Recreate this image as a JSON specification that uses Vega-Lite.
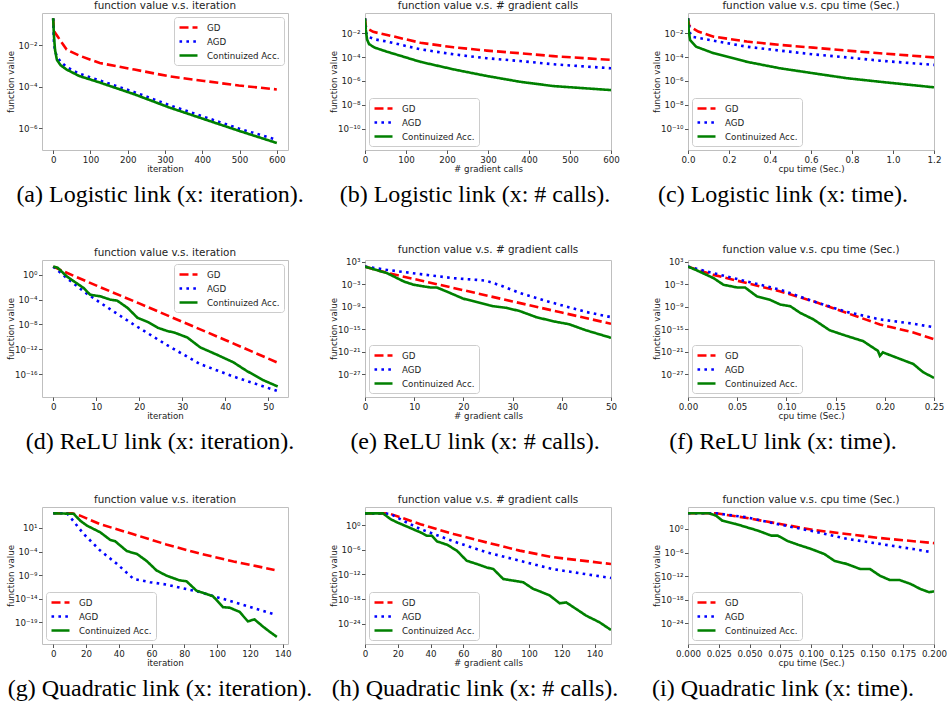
{
"$schema":"https://vega.github.io/schema/vega-lite/v6.json",
"padding":{"left":5,"top":0,"right":5,"bottom":5},
"background":"white",
"columns":3,
"spacing":{"row":52,"column":77},
"bounds":"flush",
"datasets":{
"a":[{"m":"GD","x":0,"y":0.2},{"m":"GD","x":2,"y":0.05},{"m":"GD","x":12,"y":0.027},{"m":"GD","x":36,"y":0.0063},{"m":"GD","x":70,"y":0.0032},{"m":"GD","x":125,"y":0.0014},{"m":"GD","x":218,"y":0.00068},{"m":"GD","x":311,"y":0.00032},{"m":"GD","x":405,"y":0.00019},{"m":"GD","x":498,"y":0.000115},{"m":"GD","x":600,"y":0.000074},
{"m":"AGD","x":0,"y":0.2},{"m":"AGD","x":2,"y":0.015},{"m":"AGD","x":5,"y":0.005},{"m":"AGD","x":10,"y":0.003},{"m":"AGD","x":20,"y":0.0016},{"m":"AGD","x":36,"y":0.0009},{"m":"AGD","x":70,"y":0.00043},{"m":"AGD","x":125,"y":0.0002},{"m":"AGD","x":218,"y":5.5e-5},{"m":"AGD","x":311,"y":1.3e-5},{"m":"AGD","x":405,"y":3.5e-6},{"m":"AGD","x":498,"y":9.5e-7},{"m":"AGD","x":600,"y":2.7e-7},
{"m":"Continuized Acc.","x":0,"y":0.21},{"m":"Continuized Acc.","x":2,"y":0.03},{"m":"Continuized Acc.","x":5,"y":0.006},{"m":"Continuized Acc.","x":10,"y":0.002},{"m":"Continuized Acc.","x":20,"y":0.0011},{"m":"Continuized Acc.","x":36,"y":0.00068},{"m":"Continuized Acc.","x":70,"y":0.00033},{"m":"Continuized Acc.","x":125,"y":0.00016},{"m":"Continuized Acc.","x":218,"y":4.3e-5},{"m":"Continuized Acc.","x":311,"y":1e-5},{"m":"Continuized Acc.","x":405,"y":2.7e-6},{"m":"Continuized Acc.","x":498,"y":7.4e-7},{"m":"Continuized Acc.","x":600,"y":1.9e-7}],
"b":[{"m":"GD","x":0,"y":0.18},{"m":"GD","x":2,"y":0.04},{"m":"GD","x":5,"y":0.026},{"m":"GD","x":20,"y":0.013},{"m":"GD","x":54,"y":0.0072},{"m":"GD","x":135,"y":0.0016},{"m":"GD","x":216,"y":0.00066},{"m":"GD","x":297,"y":0.00035},{"m":"GD","x":378,"y":0.00021},{"m":"GD","x":459,"y":0.00012},{"m":"GD","x":600,"y":5.8e-5},
{"m":"AGD","x":0,"y":0.18},{"m":"AGD","x":3,"y":0.01},{"m":"AGD","x":8,"y":0.005},{"m":"AGD","x":25,"y":0.003},{"m":"AGD","x":54,"y":0.002},{"m":"AGD","x":135,"y":0.00045},{"m":"AGD","x":216,"y":0.00017},{"m":"AGD","x":297,"y":8e-5},{"m":"AGD","x":378,"y":4.7e-5},{"m":"AGD","x":459,"y":2.5e-5},{"m":"AGD","x":600,"y":1.15e-5},
{"m":"Continuized Acc.","x":0,"y":0.18},{"m":"Continuized Acc.","x":2,"y":0.02},{"m":"Continuized Acc.","x":5,"y":0.003},{"m":"Continuized Acc.","x":10,"y":0.0012},{"m":"Continuized Acc.","x":25,"y":0.0006},{"m":"Continuized Acc.","x":54,"y":0.00028},{"m":"Continuized Acc.","x":135,"y":4e-5},{"m":"Continuized Acc.","x":216,"y":9.3e-6},{"m":"Continuized Acc.","x":297,"y":2.6e-6},{"m":"Continuized Acc.","x":378,"y":8.5e-7},{"m":"Continuized Acc.","x":459,"y":3.7e-7},{"m":"Continuized Acc.","x":600,"y":1.7e-7}],
"c":[{"m":"GD","x":0,"y":0.18},{"m":"GD","x":0.005,"y":0.05},{"m":"GD","x":0.011,"y":0.035},{"m":"GD","x":0.05,"y":0.014},{"m":"GD","x":0.125,"y":0.0052},{"m":"GD","x":0.287,"y":0.002},{"m":"GD","x":0.449,"y":0.00105},{"m":"GD","x":0.611,"y":0.00062},{"m":"GD","x":0.774,"y":0.00035},{"m":"GD","x":0.936,"y":0.00021},{"m":"GD","x":1.2,"y":9.5e-5},
{"m":"AGD","x":0,"y":0.18},{"m":"AGD","x":0.01,"y":0.01},{"m":"AGD","x":0.02,"y":0.005},{"m":"AGD","x":0.125,"y":0.0024},{"m":"AGD","x":0.287,"y":0.00074},{"m":"AGD","x":0.449,"y":0.00035},{"m":"AGD","x":0.611,"y":0.00017},{"m":"AGD","x":0.774,"y":9.5e-5},{"m":"AGD","x":0.936,"y":5e-5},{"m":"AGD","x":1.2,"y":2.2e-5},
{"m":"Continuized Acc.","x":0,"y":0.18},{"m":"Continuized Acc.","x":0.004,"y":0.015},{"m":"Continuized Acc.","x":0.01,"y":0.0027},{"m":"Continuized Acc.","x":0.04,"y":0.00074},{"m":"Continuized Acc.","x":0.125,"y":0.00021},{"m":"Continuized Acc.","x":0.287,"y":4e-5},{"m":"Continuized Acc.","x":0.449,"y":1.15e-5},{"m":"Continuized Acc.","x":0.611,"y":4.4e-6},{"m":"Continuized Acc.","x":0.774,"y":1.7e-6},{"m":"Continuized Acc.","x":0.936,"y":8.5e-7},{"m":"Continuized Acc.","x":1.2,"y":2.9e-7}],
"d":[{"m":"GD","x":0,"y":21},{"m":"GD","x":2,"y":5},{"m":"GD","x":5,"y":0.6},{"m":"GD","x":11,"y":0.01},{"m":"GD","x":20,"y":2.5e-5},{"m":"GD","x":30,"y":2.8e-8},{"m":"GD","x":40,"y":3.2e-11},{"m":"GD","x":52,"y":8e-15},
{"m":"AGD","x":0,"y":21},{"m":"AGD","x":3.2,"y":0.3},{"m":"AGD","x":7.1,"y":0.0021},{"m":"AGD","x":11,"y":3e-5},{"m":"AGD","x":18.7,"y":1e-8},{"m":"AGD","x":26.4,"y":5e-12},{"m":"AGD","x":34.2,"y":4e-15},{"m":"AGD","x":41.9,"y":4e-17},{"m":"AGD","x":52,"y":2e-19},
{"m":"Continuized Acc.","x":0,"y":21},{"m":"Continuized Acc.","x":1,"y":15},{"m":"Continuized Acc.","x":3.2,"y":0.54},{"m":"Continuized Acc.","x":7.1,"y":0.0074},{"m":"Continuized Acc.","x":8.6,"y":0.00063},{"m":"Continuized Acc.","x":11,"y":0.00034},{"m":"Continuized Acc.","x":13.3,"y":0.0001},{"m":"Continuized Acc.","x":14.9,"y":6.9e-5},{"m":"Continuized Acc.","x":17.3,"y":4.7e-6},{"m":"Continuized Acc.","x":19.6,"y":1.2e-7},{"m":"Continuized Acc.","x":21.9,"y":2.7e-8},{"m":"Continuized Acc.","x":24.3,"y":3e-9},{"m":"Continuized Acc.","x":26.6,"y":8.5e-10},{"m":"Continuized Acc.","x":28.1,"y":5.2e-10},{"m":"Continuized Acc.","x":31.2,"y":7.9e-11},{"m":"Continuized Acc.","x":34.2,"y":2e-12},{"m":"Continuized Acc.","x":38.1,"y":1.3e-13},{"m":"Continuized Acc.","x":41.9,"y":7.9e-15},{"m":"Continuized Acc.","x":45,"y":3.2e-16},{"m":"Continuized Acc.","x":48.9,"y":1e-17},{"m":"Continuized Acc.","x":52.2,"y":1e-18}],
"e":[{"m":"GD","x":0,"y":48},{"m":"GD","x":2,"y":8},{"m":"GD","x":5,"y":0.7},{"m":"GD","x":11.3,"y":0.0093},{"m":"GD","x":20,"y":2.4e-5},{"m":"GD","x":30,"y":2.5e-8},{"m":"GD","x":40,"y":2.6e-11},{"m":"GD","x":50,"y":2.8e-14},
{"m":"AGD","x":0,"y":48},{"m":"AGD","x":4.5,"y":6.3},{"m":"AGD","x":11.3,"y":0.47},{"m":"AGD","x":18,"y":0.04},{"m":"AGD","x":22.7,"y":0.014},{"m":"AGD","x":24.7,"y":0.0079},{"m":"AGD","x":28.1,"y":0.00025},{"m":"AGD","x":31.5,"y":4.3e-6},{"m":"AGD","x":38.2,"y":1e-8},{"m":"AGD","x":44.9,"y":4e-11},{"m":"AGD","x":50,"y":1.6e-12},
{"m":"Continuized Acc.","x":0,"y":48},{"m":"Continuized Acc.","x":4.5,"y":0.85},{"m":"Continuized Acc.","x":7.9,"y":0.0051},{"m":"Continuized Acc.","x":9.9,"y":0.00069},{"m":"Continuized Acc.","x":13.3,"y":0.00013},{"m":"Continuized Acc.","x":14.6,"y":0.00013},{"m":"Continuized Acc.","x":16.6,"y":1.1e-5},{"m":"Continuized Acc.","x":20,"y":1.3e-7},{"m":"Continuized Acc.","x":22.7,"y":1.8e-8},{"m":"Continuized Acc.","x":26.1,"y":1.3e-9},{"m":"Continuized Acc.","x":28.8,"y":4.7e-10},{"m":"Continuized Acc.","x":31.5,"y":6.3e-11},{"m":"Continuized Acc.","x":34.8,"y":1.6e-12},{"m":"Continuized Acc.","x":38.2,"y":1.3e-13},{"m":"Continuized Acc.","x":41.5,"y":2e-14},{"m":"Continuized Acc.","x":44.9,"y":5e-16},{"m":"Continuized Acc.","x":50,"y":5e-18}],
"f":[{"m":"GD","x":0,"y":48},{"m":"GD","x":0.026,"y":0.3},{"m":"GD","x":0.06,"y":0.0019},{"m":"GD","x":0.094,"y":1.15e-5},{"m":"GD","x":0.1275,"y":2.6e-8},{"m":"GD","x":0.161,"y":2.2e-11},{"m":"GD","x":0.195,"y":1.8e-14},{"m":"GD","x":0.229,"y":1.3e-16},{"m":"GD","x":0.25,"y":2e-18},
{"m":"AGD","x":0,"y":48},{"m":"AGD","x":0.026,"y":0.85},{"m":"AGD","x":0.06,"y":0.0051},{"m":"AGD","x":0.094,"y":3.2e-5},{"m":"AGD","x":0.1275,"y":2.6e-8},{"m":"AGD","x":0.161,"y":4e-11},{"m":"AGD","x":0.195,"y":4e-13},{"m":"AGD","x":0.229,"y":2.8e-14},{"m":"AGD","x":0.25,"y":3.2e-15},
{"m":"Continuized Acc.","x":0,"y":48},{"m":"Continuized Acc.","x":0.008,"y":6.3},{"m":"Continuized Acc.","x":0.026,"y":0.04},{"m":"Continuized Acc.","x":0.036,"y":0.00069},{"m":"Continuized Acc.","x":0.05,"y":0.00013},{"m":"Continuized Acc.","x":0.058,"y":0.00013},{"m":"Continuized Acc.","x":0.07,"y":5.5e-7},{"m":"Continuized Acc.","x":0.083,"y":7.4e-8},{"m":"Continuized Acc.","x":0.094,"y":3.5e-9},{"m":"Continuized Acc.","x":0.104,"y":1.3e-9},{"m":"Continuized Acc.","x":0.114,"y":2.2e-11},{"m":"Continuized Acc.","x":0.1275,"y":4e-13},{"m":"Continuized Acc.","x":0.144,"y":5e-16},{"m":"Continuized Acc.","x":0.161,"y":1.6e-17},{"m":"Continuized Acc.","x":0.178,"y":6.3e-19},{"m":"Continuized Acc.","x":0.193,"y":1.6e-21},{"m":"Continuized Acc.","x":0.195,"y":7.9e-23},{"m":"Continuized Acc.","x":0.198,"y":6.3e-22},{"m":"Continuized Acc.","x":0.212,"y":2.5e-23},{"m":"Continuized Acc.","x":0.229,"y":5e-25},{"m":"Continuized Acc.","x":0.239,"y":3.2e-27},{"m":"Continuized Acc.","x":0.25,"y":1e-28}],
"g":[{"m":"GD","x":0,"y":12600},{"m":"GD","x":11.5,"y":12600},{"m":"GD","x":16.5,"y":4000},{"m":"GD","x":28.2,"y":71},{"m":"GD","x":49,"y":0.45},{"m":"GD","x":69,"y":0.0032},{"m":"GD","x":90,"y":3.2e-5},{"m":"GD","x":110,"y":7.9e-7},{"m":"GD","x":135,"y":1.26e-8},
{"m":"AGD","x":0,"y":12600},{"m":"AGD","x":8.5,"y":12600},{"m":"AGD","x":10.5,"y":1800},{"m":"AGD","x":18.6,"y":0.54},{"m":"AGD","x":28.7,"y":0.00016},{"m":"AGD","x":38.8,"y":2.5e-7},{"m":"AGD","x":49,"y":1.6e-10},{"m":"AGD","x":59,"y":3.2e-11},{"m":"AGD","x":69,"y":1e-11},{"m":"AGD","x":89.4,"y":2.5e-13},{"m":"AGD","x":110,"y":2e-15},{"m":"AGD","x":134,"y":6.3e-18},
{"m":"Continuized Acc.","x":0,"y":12600},{"m":"Continuized Acc.","x":12.5,"y":10000},{"m":"Continuized Acc.","x":16.5,"y":350},{"m":"Continuized Acc.","x":20.6,"y":31},{"m":"Continuized Acc.","x":28.7,"y":1.2},{"m":"Continuized Acc.","x":34.8,"y":0.029},{"m":"Continuized Acc.","x":37.8,"y":0.015},{"m":"Continuized Acc.","x":45,"y":0.00012},{"m":"Continuized Acc.","x":51,"y":3.2e-5},{"m":"Continuized Acc.","x":57,"y":1e-6},{"m":"Continuized Acc.","x":63,"y":1e-8},{"m":"Continuized Acc.","x":69,"y":7.9e-10},{"m":"Continuized Acc.","x":77,"y":7.9e-11},{"m":"Continuized Acc.","x":81.3,"y":5e-11},{"m":"Continuized Acc.","x":87.4,"y":5e-13},{"m":"Continuized Acc.","x":93.5,"y":1e-13},{"m":"Continuized Acc.","x":97.5,"y":3.2e-14},{"m":"Continuized Acc.","x":103.6,"y":1.6e-16},{"m":"Continuized Acc.","x":107.6,"y":1.26e-16},{"m":"Continuized Acc.","x":113.7,"y":1.6e-17},{"m":"Continuized Acc.","x":118.7,"y":1.6e-19},{"m":"Continuized Acc.","x":122.8,"y":4e-19},{"m":"Continuized Acc.","x":127.9,"y":1.26e-20},{"m":"Continuized Acc.","x":132,"y":1e-21},{"m":"Continuized Acc.","x":136.4,"y":7.9e-23}],
"h":[{"m":"GD","x":0,"y":690},{"m":"GD","x":12,"y":690},{"m":"GD","x":15.6,"y":500},{"m":"GD","x":33.8,"y":1.7},{"m":"GD","x":54,"y":0.0066},{"m":"GD","x":74,"y":6.3e-5},{"m":"GD","x":94.3,"y":6.3e-7},{"m":"GD","x":114.5,"y":1.6e-8},{"m":"GD","x":150,"y":3.5e-10},
{"m":"AGD","x":0,"y":690},{"m":"AGD","x":12,"y":690},{"m":"AGD","x":15.6,"y":500},{"m":"AGD","x":23.4,"y":11},{"m":"AGD","x":33.8,"y":0.11},{"m":"AGD","x":54,"y":0.00011},{"m":"AGD","x":74,"y":2.5e-7},{"m":"AGD","x":94.3,"y":2.2e-9},{"m":"AGD","x":114.5,"y":2e-11},{"m":"AGD","x":150,"y":1.4e-13},
{"m":"Continuized Acc.","x":0,"y":690},{"m":"Continuized Acc.","x":11,"y":690},{"m":"Continuized Acc.","x":15.6,"y":28},{"m":"Continuized Acc.","x":19.6,"y":4.5},{"m":"Continuized Acc.","x":27.7,"y":0.19},{"m":"Continuized Acc.","x":33.8,"y":0.017},{"m":"Continuized Acc.","x":37.8,"y":0.0025},{"m":"Continuized Acc.","x":40.8,"y":0.0025},{"m":"Continuized Acc.","x":43.9,"y":0.00011},{"m":"Continuized Acc.","x":50,"y":1.7e-5},{"m":"Continuized Acc.","x":56,"y":6.3e-7},{"m":"Continuized Acc.","x":62,"y":2.2e-9},{"m":"Continuized Acc.","x":68.2,"y":3.5e-10},{"m":"Continuized Acc.","x":74.2,"y":5e-11},{"m":"Continuized Acc.","x":78.3,"y":2e-11},{"m":"Continuized Acc.","x":84.3,"y":7.9e-14},{"m":"Continuized Acc.","x":90.4,"y":3.2e-14},{"m":"Continuized Acc.","x":96.5,"y":1.26e-14},{"m":"Continuized Acc.","x":102.5,"y":3.2e-16},{"m":"Continuized Acc.","x":106.6,"y":7.9e-17},{"m":"Continuized Acc.","x":112.6,"y":7.9e-18},{"m":"Continuized Acc.","x":118.7,"y":1e-19},{"m":"Continuized Acc.","x":122.7,"y":1.6e-19},{"m":"Continuized Acc.","x":128.8,"y":4e-21},{"m":"Continuized Acc.","x":134.8,"y":1e-22},{"m":"Continuized Acc.","x":142.9,"y":2.5e-24},{"m":"Continuized Acc.","x":150,"y":3.2e-26}],
"i":[{"m":"GD","x":0,"y":10000},{"m":"GD","x":0.0228,"y":10000},{"m":"GD","x":0.0479,"y":630},{"m":"GD","x":0.075,"y":19},{"m":"GD","x":0.102,"y":0.56},{"m":"GD","x":0.129,"y":0.054},{"m":"GD","x":0.156,"y":0.005},{"m":"GD","x":0.2,"y":0.00025},
{"m":"AGD","x":0,"y":10000},{"m":"AGD","x":0.0228,"y":10000},{"m":"AGD","x":0.0479,"y":930},{"m":"AGD","x":0.075,"y":12.6},{"m":"AGD","x":0.102,"y":0.25},{"m":"AGD","x":0.129,"y":0.0032},{"m":"AGD","x":0.156,"y":0.00016},{"m":"AGD","x":0.183,"y":7.9e-6},{"m":"AGD","x":0.198,"y":1.26e-6},
{"m":"Continuized Acc.","x":0,"y":10000},{"m":"Continuized Acc.","x":0.017,"y":10000},{"m":"Continuized Acc.","x":0.0228,"y":2500},{"m":"Continuized Acc.","x":0.028,"y":126},{"m":"Continuized Acc.","x":0.0389,"y":19},{"m":"Continuized Acc.","x":0.0479,"y":2.6},{"m":"Continuized Acc.","x":0.0569,"y":0.38},{"m":"Continuized Acc.","x":0.0677,"y":0.02},{"m":"Continuized Acc.","x":0.073,"y":0.02},{"m":"Continuized Acc.","x":0.0813,"y":0.00079},{"m":"Continuized Acc.","x":0.0894,"y":0.0001},{"m":"Continuized Acc.","x":0.1002,"y":7.9e-6},{"m":"Continuized Acc.","x":0.111,"y":4e-7},{"m":"Continuized Acc.","x":0.119,"y":7.9e-9},{"m":"Continuized Acc.","x":0.129,"y":1.26e-9},{"m":"Continuized Acc.","x":0.14,"y":6.3e-11},{"m":"Continuized Acc.","x":0.148,"y":6.3e-11},{"m":"Continuized Acc.","x":0.156,"y":1.26e-12},{"m":"Continuized Acc.","x":0.164,"y":1e-13},{"m":"Continuized Acc.","x":0.172,"y":1e-13},{"m":"Continuized Acc.","x":0.181,"y":1e-14},{"m":"Continuized Acc.","x":0.189,"y":5e-16},{"m":"Continuized Acc.","x":0.196,"y":7.9e-17},{"m":"Continuized Acc.","x":0.2,"y":1.26e-16}]
},
"concat":[
{"width":246,"height":137,"title":"function value v.s. iteration","data":{"name":"a"},"mark":{"type":"line","strokeWidth":2.6,"clip":true},
"encoding":{"x":{"field":"x","type":"quantitative","scale":{"domain":[-30,630],"nice":false,"zero":false},"axis":{"title":"iteration","values":[0,100,200,300,400,500,600]}},
"y":{"field":"y","type":"quantitative","scale":{"type":"log","domain":[8.7e-8,0.37],"nice":false},"axis":{"title":"function value","values":[0.01,0.0001,0.000001],"labelExpr":"'10' + (datum.value < 1 ? '⁻' : '') + (abs(round(log(datum.value)/LN10)) >= 10 ? substring('⁰¹²³⁴⁵⁶⁷⁸⁹', floor(abs(round(log(datum.value)/LN10))/10), floor(abs(round(log(datum.value)/LN10))/10) + 1) : '') + substring('⁰¹²³⁴⁵⁶⁷⁸⁹', abs(round(log(datum.value)/LN10)) % 10, abs(round(log(datum.value)/LN10)) % 10 + 1)"}},
"color":{"field":"m","type":"nominal","scale":{"domain":["GD","AGD","Continuized Acc."],"range":["#ff0000","#0000ff","#008000"]},"legend":{"title":null,"orient":"top-right"}},
"strokeDash":{"field":"m","type":"nominal","scale":{"domain":["GD","AGD","Continuized Acc."],"range":[[9,4],[2.6,4.3],[1,0]]},"legend":{"title":null,"orient":"top-right"}}}},
{"width":246,"height":137,"title":"function value v.s. # gradient calls","data":{"name":"b"},"mark":{"type":"line","strokeWidth":2.6,"clip":true},
"encoding":{"x":{"field":"x","type":"quantitative","scale":{"domain":[0,600],"nice":false,"zero":false},"axis":{"title":"# gradient calls","values":[0,100,200,300,400,500,600]}},
"y":{"field":"y","type":"quantitative","scale":{"type":"log","domain":[1.6e-12,0.5],"nice":false},"axis":{"title":"function value","values":[0.01,0.0001,0.000001,1e-8,1e-10],"labelExpr":"'10' + (datum.value < 1 ? '⁻' : '') + (abs(round(log(datum.value)/LN10)) >= 10 ? substring('⁰¹²³⁴⁵⁶⁷⁸⁹', floor(abs(round(log(datum.value)/LN10))/10), floor(abs(round(log(datum.value)/LN10))/10) + 1) : '') + substring('⁰¹²³⁴⁵⁶⁷⁸⁹', abs(round(log(datum.value)/LN10)) % 10, abs(round(log(datum.value)/LN10)) % 10 + 1)"}},
"color":{"field":"m","type":"nominal","scale":{"domain":["GD","AGD","Continuized Acc."],"range":["#ff0000","#0000ff","#008000"]},"legend":{"title":null,"orient":"bottom-left"}},
"strokeDash":{"field":"m","type":"nominal","scale":{"domain":["GD","AGD","Continuized Acc."],"range":[[9,4],[2.6,4.3],[1,0]]},"legend":{"title":null,"orient":"bottom-left"}}}},
{"width":246,"height":137,"title":"function value v.s. cpu time (Sec.)","data":{"name":"c"},"mark":{"type":"line","strokeWidth":2.6,"clip":true},
"encoding":{"x":{"field":"x","type":"quantitative","scale":{"domain":[0,1.2],"nice":false,"zero":false},"axis":{"title":"cpu time (Sec.)","values":[0,0.2,0.4,0.6,0.8,1.0,1.2],"format":".1f"}},
"y":{"field":"y","type":"quantitative","scale":{"type":"log","domain":[1.6e-12,0.5],"nice":false},"axis":{"title":"function value","values":[0.01,0.0001,0.000001,1e-8,1e-10],"labelExpr":"'10' + (datum.value < 1 ? '⁻' : '') + (abs(round(log(datum.value)/LN10)) >= 10 ? substring('⁰¹²³⁴⁵⁶⁷⁸⁹', floor(abs(round(log(datum.value)/LN10))/10), floor(abs(round(log(datum.value)/LN10))/10) + 1) : '') + substring('⁰¹²³⁴⁵⁶⁷⁸⁹', abs(round(log(datum.value)/LN10)) % 10, abs(round(log(datum.value)/LN10)) % 10 + 1)"}},
"color":{"field":"m","type":"nominal","scale":{"domain":["GD","AGD","Continuized Acc."],"range":["#ff0000","#0000ff","#008000"]},"legend":{"title":null,"orient":"bottom-left"}},
"strokeDash":{"field":"m","type":"nominal","scale":{"domain":["GD","AGD","Continuized Acc."],"range":[[9,4],[2.6,4.3],[1,0]]},"legend":{"title":null,"orient":"bottom-left"}}}},
{"width":246,"height":6,"data":{"values":[{"t":"(a) Logistic link (x: iteration)."}]},"mark":{"type":"text","font":"Liberation Serif","fontSize":24,"color":"#000","baseline":"alphabetic","dy":-3,"dx":-5},"encoding":{"text":{"field":"t","type":"nominal"}}},
{"width":246,"height":6,"data":{"values":[{"t":"(b) Logistic link (x: # calls)."}]},"mark":{"type":"text","font":"Liberation Serif","fontSize":24,"color":"#000","baseline":"alphabetic","dy":-3,"dx":-13},"encoding":{"text":{"field":"t","type":"nominal"}}},
{"width":246,"height":6,"data":{"values":[{"t":"(c) Logistic link (x: time)."}]},"mark":{"type":"text","font":"Liberation Serif","fontSize":24,"color":"#000","baseline":"alphabetic","dy":-3,"dx":-28},"encoding":{"text":{"field":"t","type":"nominal"}}},
{"width":246,"height":137,"title":"function value v.s. iteration","data":{"name":"d"},"mark":{"type":"line","strokeWidth":2.6,"clip":true},
"encoding":{"x":{"field":"x","type":"quantitative","scale":{"domain":[-2.6,54.6],"nice":false,"zero":false},"axis":{"title":"iteration","values":[0,10,20,30,40,50]}},
"y":{"field":"y","type":"quantitative","scale":{"type":"log","domain":[2e-20,251],"nice":false},"axis":{"title":"function value","values":[1,0.0001,1e-8,1e-12,1e-16],"labelExpr":"'10' + (datum.value < 1 ? '⁻' : '') + (abs(round(log(datum.value)/LN10)) >= 10 ? substring('⁰¹²³⁴⁵⁶⁷⁸⁹', floor(abs(round(log(datum.value)/LN10))/10), floor(abs(round(log(datum.value)/LN10))/10) + 1) : '') + substring('⁰¹²³⁴⁵⁶⁷⁸⁹', abs(round(log(datum.value)/LN10)) % 10, abs(round(log(datum.value)/LN10)) % 10 + 1)"}},
"color":{"field":"m","type":"nominal","scale":{"domain":["GD","AGD","Continuized Acc."],"range":["#ff0000","#0000ff","#008000"]},"legend":{"title":null,"orient":"top-right"}},
"strokeDash":{"field":"m","type":"nominal","scale":{"domain":["GD","AGD","Continuized Acc."],"range":[[9,4],[2.6,4.3],[1,0]]},"legend":{"title":null,"orient":"top-right"}}}},
{"width":246,"height":137,"title":"function value v.s. # gradient calls","data":{"name":"e"},"mark":{"type":"line","strokeWidth":2.6,"clip":true},
"encoding":{"x":{"field":"x","type":"quantitative","scale":{"domain":[0,50],"nice":false,"zero":false},"axis":{"title":"# gradient calls","values":[0,10,20,30,40,50]}},
"y":{"field":"y","type":"quantitative","scale":{"type":"log","domain":[7.9e-34,2800],"nice":false},"axis":{"title":"function value","values":[1000,0.001,1e-9,1e-15,1e-21,1e-27],"labelExpr":"'10' + (datum.value < 1 ? '⁻' : '') + (abs(round(log(datum.value)/LN10)) >= 10 ? substring('⁰¹²³⁴⁵⁶⁷⁸⁹', floor(abs(round(log(datum.value)/LN10))/10), floor(abs(round(log(datum.value)/LN10))/10) + 1) : '') + substring('⁰¹²³⁴⁵⁶⁷⁸⁹', abs(round(log(datum.value)/LN10)) % 10, abs(round(log(datum.value)/LN10)) % 10 + 1)"}},
"color":{"field":"m","type":"nominal","scale":{"domain":["GD","AGD","Continuized Acc."],"range":["#ff0000","#0000ff","#008000"]},"legend":{"title":null,"orient":"bottom-left"}},
"strokeDash":{"field":"m","type":"nominal","scale":{"domain":["GD","AGD","Continuized Acc."],"range":[[9,4],[2.6,4.3],[1,0]]},"legend":{"title":null,"orient":"bottom-left"}}}},
{"width":246,"height":137,"title":"function value v.s. cpu time (Sec.)","data":{"name":"f"},"mark":{"type":"line","strokeWidth":2.6,"clip":true},
"encoding":{"x":{"field":"x","type":"quantitative","scale":{"domain":[0,0.25],"nice":false,"zero":false},"axis":{"title":"cpu time (Sec.)","values":[0,0.05,0.1,0.15,0.2,0.25],"format":".2f"}},
"y":{"field":"y","type":"quantitative","scale":{"type":"log","domain":[7.9e-34,2800],"nice":false},"axis":{"title":"function value","values":[1000,0.001,1e-9,1e-15,1e-21,1e-27],"labelExpr":"'10' + (datum.value < 1 ? '⁻' : '') + (abs(round(log(datum.value)/LN10)) >= 10 ? substring('⁰¹²³⁴⁵⁶⁷⁸⁹', floor(abs(round(log(datum.value)/LN10))/10), floor(abs(round(log(datum.value)/LN10))/10) + 1) : '') + substring('⁰¹²³⁴⁵⁶⁷⁸⁹', abs(round(log(datum.value)/LN10)) % 10, abs(round(log(datum.value)/LN10)) % 10 + 1)"}},
"color":{"field":"m","type":"nominal","scale":{"domain":["GD","AGD","Continuized Acc."],"range":["#ff0000","#0000ff","#008000"]},"legend":{"title":null,"orient":"bottom-left"}},
"strokeDash":{"field":"m","type":"nominal","scale":{"domain":["GD","AGD","Continuized Acc."],"range":[[9,4],[2.6,4.3],[1,0]]},"legend":{"title":null,"orient":"bottom-left"}}}},
{"width":246,"height":6,"data":{"values":[{"t":"(d) ReLU link (x: iteration)."}]},"mark":{"type":"text","font":"Liberation Serif","fontSize":24,"color":"#000","baseline":"alphabetic","dy":-3,"dx":-5},"encoding":{"text":{"field":"t","type":"nominal"}}},
{"width":246,"height":6,"data":{"values":[{"t":"(e) ReLU link (x: # calls)."}]},"mark":{"type":"text","font":"Liberation Serif","fontSize":24,"color":"#000","baseline":"alphabetic","dy":-3,"dx":-13},"encoding":{"text":{"field":"t","type":"nominal"}}},
{"width":246,"height":6,"data":{"values":[{"t":"(f) ReLU link (x: time)."}]},"mark":{"type":"text","font":"Liberation Serif","fontSize":24,"color":"#000","baseline":"alphabetic","dy":-3,"dx":-28},"encoding":{"text":{"field":"t","type":"nominal"}}},
{"width":246,"height":137,"title":"function value v.s. iteration","data":{"name":"g"},"mark":{"type":"line","strokeWidth":2.6,"clip":true},
"encoding":{"x":{"field":"x","type":"quantitative","scale":{"domain":[-6.8,143.2],"nice":false,"zero":false},"axis":{"title":"iteration","values":[0,20,40,60,80,100,120,140]}},
"y":{"field":"y","type":"quantitative","scale":{"type":"log","domain":[2.5e-24,275000],"nice":false},"axis":{"title":"function value","values":[10,0.0001,1e-9,1e-14,1e-19],"labelExpr":"'10' + (datum.value < 1 ? '⁻' : '') + (abs(round(log(datum.value)/LN10)) >= 10 ? substring('⁰¹²³⁴⁵⁶⁷⁸⁹', floor(abs(round(log(datum.value)/LN10))/10), floor(abs(round(log(datum.value)/LN10))/10) + 1) : '') + substring('⁰¹²³⁴⁵⁶⁷⁸⁹', abs(round(log(datum.value)/LN10)) % 10, abs(round(log(datum.value)/LN10)) % 10 + 1)"}},
"color":{"field":"m","type":"nominal","scale":{"domain":["GD","AGD","Continuized Acc."],"range":["#ff0000","#0000ff","#008000"]},"legend":{"title":null,"orient":"bottom-left"}},
"strokeDash":{"field":"m","type":"nominal","scale":{"domain":["GD","AGD","Continuized Acc."],"range":[[9,4],[2.6,4.3],[1,0]]},"legend":{"title":null,"orient":"bottom-left"}}}},
{"width":246,"height":137,"title":"function value v.s. # gradient calls","data":{"name":"h"},"mark":{"type":"line","strokeWidth":2.6,"clip":true},
"encoding":{"x":{"field":"x","type":"quantitative","scale":{"domain":[0,150],"nice":false,"zero":false},"axis":{"title":"# gradient calls","values":[0,20,40,60,80,100,120,140]}},
"y":{"field":"y","type":"quantitative","scale":{"type":"log","domain":[1.26e-29,25000],"nice":false},"axis":{"title":"function value","values":[1,0.000001,1e-12,1e-18,1e-24],"labelExpr":"'10' + (datum.value < 1 ? '⁻' : '') + (abs(round(log(datum.value)/LN10)) >= 10 ? substring('⁰¹²³⁴⁵⁶⁷⁸⁹', floor(abs(round(log(datum.value)/LN10))/10), floor(abs(round(log(datum.value)/LN10))/10) + 1) : '') + substring('⁰¹²³⁴⁵⁶⁷⁸⁹', abs(round(log(datum.value)/LN10)) % 10, abs(round(log(datum.value)/LN10)) % 10 + 1)"}},
"color":{"field":"m","type":"nominal","scale":{"domain":["GD","AGD","Continuized Acc."],"range":["#ff0000","#0000ff","#008000"]},"legend":{"title":null,"orient":"bottom-left"}},
"strokeDash":{"field":"m","type":"nominal","scale":{"domain":["GD","AGD","Continuized Acc."],"range":[[9,4],[2.6,4.3],[1,0]]},"legend":{"title":null,"orient":"bottom-left"}}}},
{"width":246,"height":137,"title":"function value v.s. cpu time (Sec.)","data":{"name":"i"},"mark":{"type":"line","strokeWidth":2.6,"clip":true},
"encoding":{"x":{"field":"x","type":"quantitative","scale":{"domain":[0,0.2],"nice":false,"zero":false},"axis":{"title":"cpu time (Sec.)","values":[0,0.025,0.05,0.075,0.1,0.125,0.15,0.175,0.2],"format":".3f"}},
"y":{"field":"y","type":"quantitative","scale":{"type":"log","domain":[5e-30,400000],"nice":false},"axis":{"title":"function value","values":[1,0.000001,1e-12,1e-18,1e-24],"labelExpr":"'10' + (datum.value < 1 ? '⁻' : '') + (abs(round(log(datum.value)/LN10)) >= 10 ? substring('⁰¹²³⁴⁵⁶⁷⁸⁹', floor(abs(round(log(datum.value)/LN10))/10), floor(abs(round(log(datum.value)/LN10))/10) + 1) : '') + substring('⁰¹²³⁴⁵⁶⁷⁸⁹', abs(round(log(datum.value)/LN10)) % 10, abs(round(log(datum.value)/LN10)) % 10 + 1)"}},
"color":{"field":"m","type":"nominal","scale":{"domain":["GD","AGD","Continuized Acc."],"range":["#ff0000","#0000ff","#008000"]},"legend":{"title":null,"orient":"bottom-left"}},
"strokeDash":{"field":"m","type":"nominal","scale":{"domain":["GD","AGD","Continuized Acc."],"range":[[9,4],[2.6,4.3],[1,0]]},"legend":{"title":null,"orient":"bottom-left"}}}},
{"width":246,"height":6,"data":{"values":[{"t":"(g) Quadratic link (x: iteration)."}]},"mark":{"type":"text","font":"Liberation Serif","fontSize":24,"color":"#000","baseline":"alphabetic","dy":-3,"dx":-5},"encoding":{"text":{"field":"t","type":"nominal"}}},
{"width":246,"height":6,"data":{"values":[{"t":"(h) Quadratic link (x: # calls)."}]},"mark":{"type":"text","font":"Liberation Serif","fontSize":24,"color":"#000","baseline":"alphabetic","dy":-3,"dx":-13},"encoding":{"text":{"field":"t","type":"nominal"}}},
{"width":246,"height":6,"data":{"values":[{"t":"(i) Quadratic link (x: time)."}]},"mark":{"type":"text","font":"Liberation Serif","fontSize":24,"color":"#000","baseline":"alphabetic","dy":-3,"dx":-28},"encoding":{"text":{"field":"t","type":"nominal"}}}
],
"resolve":{"scale":{"color":"independent","strokeDash":"independent"},"legend":{"color":"independent","strokeDash":"independent"}},
"config":{
"font":"DejaVu Sans",
"view":{"stroke":"#bfbfbf","strokeWidth":1},
"title":{"font":"DejaVu Sans","fontSize":10.4,"fontWeight":"normal","color":"#222","offset":2},
"axis":{"domain":false,"grid":false,"labelFont":"DejaVu Sans","labelFontSize":8.7,"labelColor":"#222","titleFont":"DejaVu Sans","titleFontSize":8.7,"titleFontWeight":"normal","titleColor":"#222","tickColor":"#555","tickSize":3.5,"labelPadding":1.5,"titlePadding":1,"labelFlush":false,"labelOverlap":false},
"axisY":{"minExtent":25,"maxExtent":25,"titlePadding":2},
"legend":{"labelFont":"DejaVu Sans","labelFontSize":8.7,"labelColor":"#222","symbolType":"M-1.8,0H1.8","symbolSize":100,"symbolStrokeWidth":2.6,"symbolOffset":4,"labelOffset":12,"strokeColor":"#cccccc","fillColor":"rgba(255,255,255,0.85)","padding":4,"cornerRadius":3,"offset":4,"rowPadding":2}
}
}
